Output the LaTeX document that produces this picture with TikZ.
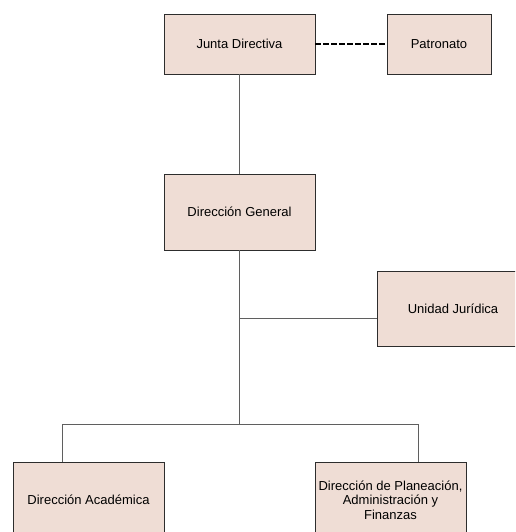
\documentclass[tikz,border=0pt]{standalone}
\usepackage{fontspec}
\setmainfont{Liberation Sans}
\definecolor{boxfill}{RGB}{239,221,213}
\definecolor{boxline}{RGB}{45,45,45}
\definecolor{conline}{RGB}{95,95,95}
\begin{document}
\begin{tikzpicture}[x=1pt,y=-1pt,
  orgbox/.style={draw=boxline, line width=0.9pt, fill=boxfill, inner sep=2pt,
    align=center, font=\fontsize{13}{14.5}\selectfont},
  conn/.style={draw=conline, line width=1pt},
  dashconn/.style={draw=black, line width=2.2pt, dash pattern=on 5.5pt off 2.5pt}]
\useasboundingbox (0,0) rectangle (515,532);
\clip (0,0) rectangle (515,532);
\node[orgbox, minimum width=151pt, minimum height=60pt] (jd) at (239.5,44) {Junta Directiva};
\node[orgbox, minimum width=104pt, minimum height=60pt] (pa) at (439,44) {Patronato};
\node[orgbox, minimum width=151pt, minimum height=76pt] (dg) at (239.5,212) {Dirección General};
\node[orgbox, minimum width=152pt, minimum height=75pt] (uj) at (453,308.5) {Unidad Jurídica};
\node[orgbox, minimum width=151pt, minimum height=76pt] (da) at (88.5,500) {Dirección Académica};
\node[orgbox, minimum width=151pt, minimum height=76pt] (dp) at (390.5,500) {Dirección de Planeación,\\Administración y\\Finanzas};
\coordinate (jun) at (239.5,318);
\coordinate (bus) at (239.5,424);
\coordinate (busl) at (62,424);
\coordinate (busr) at (418,424);
\draw[dashconn] (jd.east) -- (pa.west);
\draw[conn] (jd.south) -- (dg.north);
\draw[conn] (dg.south) -- (bus);
\draw[conn] (jun) -- (jun -| uj.west);
\draw[conn] (busl) -- (busr);
\draw[conn] (busl) -- (busl |- da.north);
\draw[conn] (busr) -- (busr |- dp.north);
\end{tikzpicture}
\end{document}
